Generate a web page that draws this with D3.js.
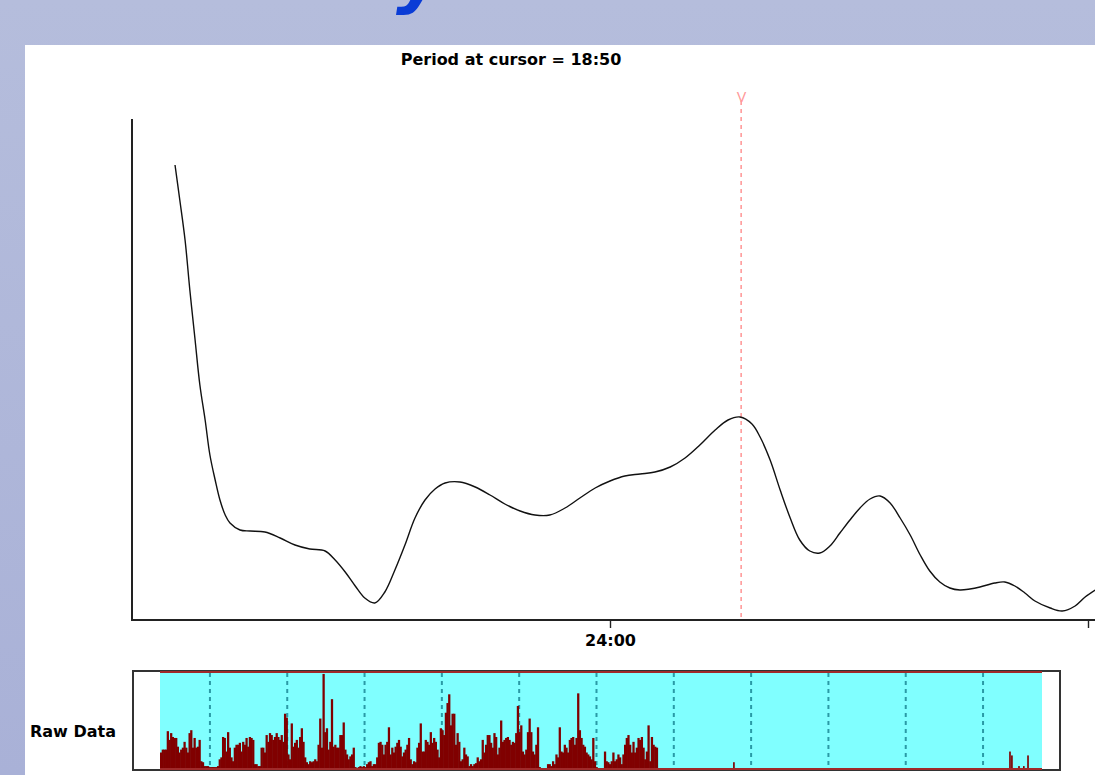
<!DOCTYPE html>
<html><head><meta charset="utf-8">
<script src="https://cdn.jsdelivr.net/npm/d3@7"></script>
<style>
html,body{margin:0;padding:0;background:#b4bcdc;}
svg{display:block;}
text{font-family:"DejaVu Sans",sans-serif;}
</style></head>
<body>
<svg id="chart" width="1095" height="775"></svg>
<script>
// ---------- data ----------
const titleText = "Period at cursor = 18:50";
const cursorPeriodHours = 18 + 50/60;
// periodogram: frequency (cycles/day) and power
const freq = [0.090,0.100,0.111,0.121,0.132,0.142,0.153,0.163,0.174,0.184,0.195,0.205,0.226,0.247,0.278,0.310,0.341,0.372,0.404,0.425,0.446,0.467,0.487,0.508,0.529,0.550,0.571,0.592,0.613,0.634,0.655,0.686,0.718,0.749,0.780,0.812,0.843,0.874,0.906,0.937,0.969,1.000,1.031,1.063,1.094,1.126,1.157,1.188,1.220,1.247,1.272,1.297,1.314,1.335,1.356,1.377,1.397,1.418,1.439,1.460,1.481,1.502,1.523,1.544,1.565,1.586,1.607,1.628,1.649,1.669,1.690,1.711,1.732,1.753,1.774,1.805,1.826,1.847,1.868,1.889,1.921,1.946,1.973,1.994,2.015];
const power = [91,84,76,66,56,47,40,33,28,24,21,19.4,18,17.8,17.6,16.4,15,14.2,13.8,12,9.6,6.8,4.4,3.4,5.6,10,15,20.4,24,26.2,27.4,27.6,26.6,25,23.2,21.8,21,21,22.4,24.4,26.4,27.8,28.8,29.2,29.6,30.6,32.4,35,38,40,40.6,39.2,36.6,32,26,20.4,16,13.8,13.4,14.8,17.4,20,22.4,24.2,24.8,23.4,20.4,17,13,9.8,7.6,6.4,6,6.2,6.6,7.4,7.6,6.8,5.4,3.8,2.4,1.8,2.8,4.6,6];
const tickFreqs = [1, 2];
const tickLabels = ["24:00", ""];

// raw activity (bins from recording start)
const rawActivity = [
17,20,20,20,39,30,37,33,32,32,23,17,20,22,28,22,17,37,40,22,32,22,23,30,8,7,3,3,3,2,2,2,2,2,3,10,12,33,32,18,38,22,12,8,22,25,25,27,18,28,25,32,23,33,32,30,5,5,3,3,22,22,17,35,28,37,35,30,33,37,33,30,35,28,57,53,15,10,47,23,27,30,22,33,42,28,12,7,5,8,7,8,10,8,25,52,22,98,
38,42,20,28,72,23,25,22,22,35,35,48,20,15,10,13,15,22,2,1,2,3,2,3,2,5,7,8,3,5,5,12,27,28,25,15,25,28,43,15,22,17,23,27,30,23,13,17,20,25,32,10,5,8,7,22,27,47,18,18,30,28,25,38,27,32,28,20,12,42,40,35,58,68,77,45,57,57,25,37,28,8,10,22,15,13,3,5,3,5,6,12,8,10,30,17,25,35,35,
27,22,37,33,15,22,50,28,30,32,33,30,25,28,27,37,65,38,45,18,15,20,38,52,38,18,15,25,43,2,0,0,0,0,5,5,3,8,5,15,12,43,18,17,25,22,17,30,32,33,25,32,78,40,32,25,23,17,15,13,10,32,8,2,1,1,1,0,18,8,7,5,8,17,8,10,15,12,5,15,25,32,35,25,17,28,17,22,32,30,33,22,10,18,45,8,33,25,23,22];
const binHours = 0.52;
const totalHours = 273.8;
const firstMidnightHours = 15.5;
const lateHours = [177.9, 249.0, 263.6, 264.2, 266.4, 267.9, 269.2];
const lateValues = [7, 1, 18, 14, 3, 3, 14];

// ---------- drawing ----------
const svg = d3.select("#chart");
const defs = svg.append("defs");
const grad = defs.append("linearGradient").attr("id","bg").attr("x1",0).attr("y1",0).attr("x2",0).attr("y2",1);
grad.append("stop").attr("offset","0%").attr("stop-color","#b5bddc");
grad.append("stop").attr("offset","100%").attr("stop-color","#a9b1d7");
svg.append("rect").attr("width",1095).attr("height",775).attr("fill","url(#bg)");

// partially visible blue heading glyph (title above is cut off by the crop)
svg.append("text").attr("x",396).attr("y",0)
  .attr("font-family","DejaVu Sans, sans-serif")
  .attr("font-weight","bold").attr("font-style","italic")
  .attr("font-size",72).attr("fill","#0a3cd6").text("y");

// white panel
svg.append("rect").attr("x",25).attr("y",45).attr("width",1070).attr("height",730).attr("fill","#ffffff");

// title
svg.append("text").attr("x",511).attr("y",65).attr("text-anchor","middle")
  .attr("font-weight","bold").attr("font-size",16).attr("fill","#000").text(titleText);

// scales
const x = d3.scaleLinear().domain([0,2]).range([132,1088]);
const y = d3.scaleLinear().domain([0,100]).range([620,120]);

// cursor
const cx = x(24 / cursorPeriodHours);
svg.append("line").attr("x1",cx).attr("x2",cx).attr("y1",101).attr("y2",620)
  .attr("stroke","#ff8c8c").attr("stroke-width",1.4).attr("stroke-dasharray","4,4");
svg.append("text").attr("x",cx+0.5).attr("y",102).attr("text-anchor","middle")
  .attr("font-size",14).attr("fill","#ff9a9a").text("V");

// curve
const pts = freq.map((f,i)=>[f,power[i]]);
svg.append("path").datum(pts)
  .attr("fill","none").attr("stroke","#111").attr("stroke-width",1.4)
  .attr("d", d3.line().x(d=>x(d[0])).y(d=>y(d[1])).curve(d3.curveCatmullRom));

// axes
svg.append("line").attr("x1",132).attr("x2",132).attr("y1",119).attr("y2",621)
  .attr("stroke","#222").attr("stroke-width",2);
const xAxis = d3.axisBottom(x).tickValues(tickFreqs).tickSize(8).tickSizeOuter(0)
  .tickFormat((d,i)=>tickLabels[i]);
const gx = svg.append("g").attr("transform","translate(0,620)").call(xAxis);
gx.select(".domain").attr("d","M132,0H1095").attr("stroke","#222").attr("stroke-width",2);
gx.selectAll(".tick line").attr("stroke","#222").attr("stroke-width",1.4);
gx.selectAll(".tick text").attr("font-family","DejaVu Sans, sans-serif")
  .attr("font-weight","bold").attr("font-size",16).attr("fill","#000").attr("dy","0.95em").attr("y",11);

// raw data panel
const rx = d3.scaleLinear().domain([0,totalHours]).range([160,1042]);
const ry = d3.scaleLinear().domain([0,100]).range([769,672]);
svg.append("text").attr("x",30).attr("y",737).attr("font-weight","bold")
  .attr("font-size",16).attr("fill","#000").text("Raw Data");
svg.append("rect").attr("x",133).attr("y",671).attr("width",927).attr("height",99)
  .attr("fill","#fff").attr("stroke","#333").attr("stroke-width",2);
svg.append("rect").attr("x",rx(0)).attr("y",672).attr("width",rx(totalHours)-rx(0)).attr("height",97)
  .attr("fill","#80ffff");
// midnight dashed lines
const midnights = d3.range(firstMidnightHours, totalHours, 24);
svg.selectAll(".mid").data(midnights).enter().append("line")
  .attr("x1",d=>rx(d)).attr("x2",d=>rx(d)).attr("y1",673).attr("y2",769)
  .attr("stroke","#2a9aa6").attr("stroke-width",2).attr("stroke-dasharray","4,4");
// bars
const bw = rx(binHours)-rx(0);
svg.selectAll(".bar").data(rawActivity).enter().append("rect")
  .attr("x",(d,i)=>rx(i*binHours)).attr("width",bw+0.6)
  .attr("y",d=>ry(d)).attr("height",d=>ry(0)-ry(d)).attr("fill","#800000");
svg.selectAll(".late").data(lateValues).enter().append("rect")
  .attr("x",(d,i)=>rx(lateHours[i])).attr("width",bw)
  .attr("y",d=>ry(d)).attr("height",d=>ry(0)-ry(d)).attr("fill","#800000");
// top and bottom dark-red lines
[672,769].forEach(yy=>{
  svg.append("line").attr("x1",rx(0)).attr("x2",rx(totalHours)).attr("y1",yy).attr("y2",yy)
    .attr("stroke","#a02a2a").attr("stroke-width",2);
});
</script>
</body></html>
